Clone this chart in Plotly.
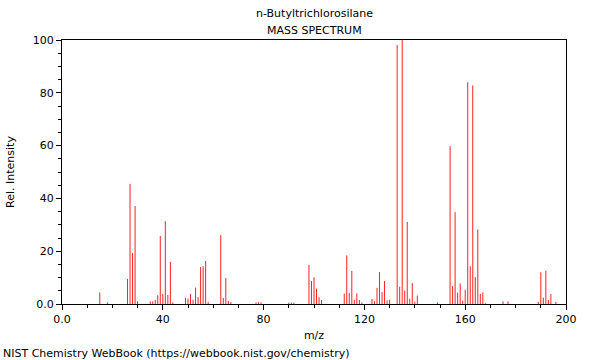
import plotly.graph_objects as go

mz = [15, 18, 26, 27, 28, 29, 30, 35, 36, 37, 38, 39, 40, 41, 42, 43, 44,
      49, 50, 51, 52, 53, 54, 55, 56, 57, 58, 63, 64, 65, 66, 67,
      77, 78, 79, 90, 91, 92, 98, 99, 100, 101, 102, 103,
      112, 113, 114, 115, 116, 117, 118, 119, 123, 124, 125, 126, 127, 128, 129, 130,
      133, 134, 135, 136, 137, 138, 139, 140, 141, 149,
      154, 155, 156, 157, 158, 159, 160, 161, 162, 163, 164, 165, 166, 167, 168,
      175, 177, 189, 190, 191, 192, 193, 194, 196]
intensity = [4.4, 0.6, 9.5, 45.5, 19.3, 37.1, 1.1, 1.0, 1.0, 1.5, 3.3, 25.8, 3.8, 31.4, 3.4, 15.9, 0.6,
             2.3, 2.0, 3.8, 1.6, 6.2, 2.6, 14.0, 14.3, 16.3, 0.8, 26.1, 2.3, 9.8, 1.1, 0.7,
             0.6, 0.7, 0.6, 0.5, 0.5, 0.5, 14.8, 8.7, 10.1, 5.8, 2.6, 1.5,
             3.9, 18.4, 4.2, 12.5, 1.5, 4.0, 1.5, 0.6, 1.9, 1.1, 6.1, 12.1, 4.5, 8.7, 1.4, 1.6,
             98.1, 6.5, 100.0, 5.1, 31.1, 2.0, 7.9, 0.9, 3.2, 0.6,
             59.8, 6.8, 34.8, 4.3, 7.8, 1.3, 5.4, 84.0, 14.3, 82.8, 10.2, 28.2, 3.8, 4.4, 0.3,
             1.0, 1.0, 0.8, 12.0, 2.4, 12.6, 1.5, 3.8, 0.8]

x_tick_vals = [0, 40, 80, 120, 160, 200]
x_tick_text = ["0.0", "40", "80", "120", "160", "200"]
y_tick_vals = [0, 20, 40, 60, 80, 100]
y_tick_text = ["0.0", "20", "40", "60", "80", "100"]

# stick spectrum: one vertical segment per peak
line_x, line_y = [], []
for m, v in zip(mz, intensity):
    line_x += [m, m, None]
    line_y += [0, v, None]

fig = go.Figure()
fig.add_trace(go.Scatter(x=line_x, y=line_y, mode="lines",
                         line=dict(color="#ff2020", width=1),
                         hoverinfo="skip"))

font = dict(family="DejaVu Sans", size=11, color="black")
fig.update_layout(
    width=600, height=360,
    margin=dict(l=62, r=34, t=40, b=56, autoexpand=False),
    paper_bgcolor="white", plot_bgcolor="white",
    font=font, showlegend=False,
    xaxis=dict(range=[0, 200], tickvals=x_tick_vals, ticktext=x_tick_text, automargin=False,
               ticks="outside", ticklen=5, tickcolor="black", showgrid=False,
               zeroline=False, showline=True, mirror=True, linecolor="black", linewidth=1,
               minor=dict(dtick=10, tick0=0, ticks="outside", ticklen=3, tickcolor="black"),
               title=dict(text="m/z", font=font, standoff=6)),
    yaxis=dict(range=[0, 100], tickvals=y_tick_vals, ticktext=y_tick_text, automargin=False,
               ticks="outside", ticklen=5, tickcolor="black", showgrid=False,
               zeroline=False, showline=True, mirror=True, linecolor="black", linewidth=1,
               minor=dict(dtick=5, tick0=0, ticks="outside", ticklen=3, tickcolor="black"),
               title=dict(text="Rel. Intensity", font=font, standoff=15)),
    annotations=[
        dict(text="n-Butyltrichlorosilane", xref="paper", yref="paper", x=0.5, y=1,
             yshift=27, showarrow=False, font=font, xanchor="center", yanchor="middle"),
        dict(text="MASS SPECTRUM", xref="paper", yref="paper", x=0.5, y=1,
             yshift=10, showarrow=False, font=font, xanchor="center", yanchor="middle"),
        dict(text="NIST Chemistry WebBook (https://webbook.nist.gov/chemistry)",
             xref="paper", yref="paper", x=0, y=0, xshift=-61, yshift=-49,
             showarrow=False, font=font, xanchor="left", yanchor="middle"),
    ],
)

fig.write_html("out.html", config={"displayModeBar": False},
               post_script="document.body.style.margin='0';")
